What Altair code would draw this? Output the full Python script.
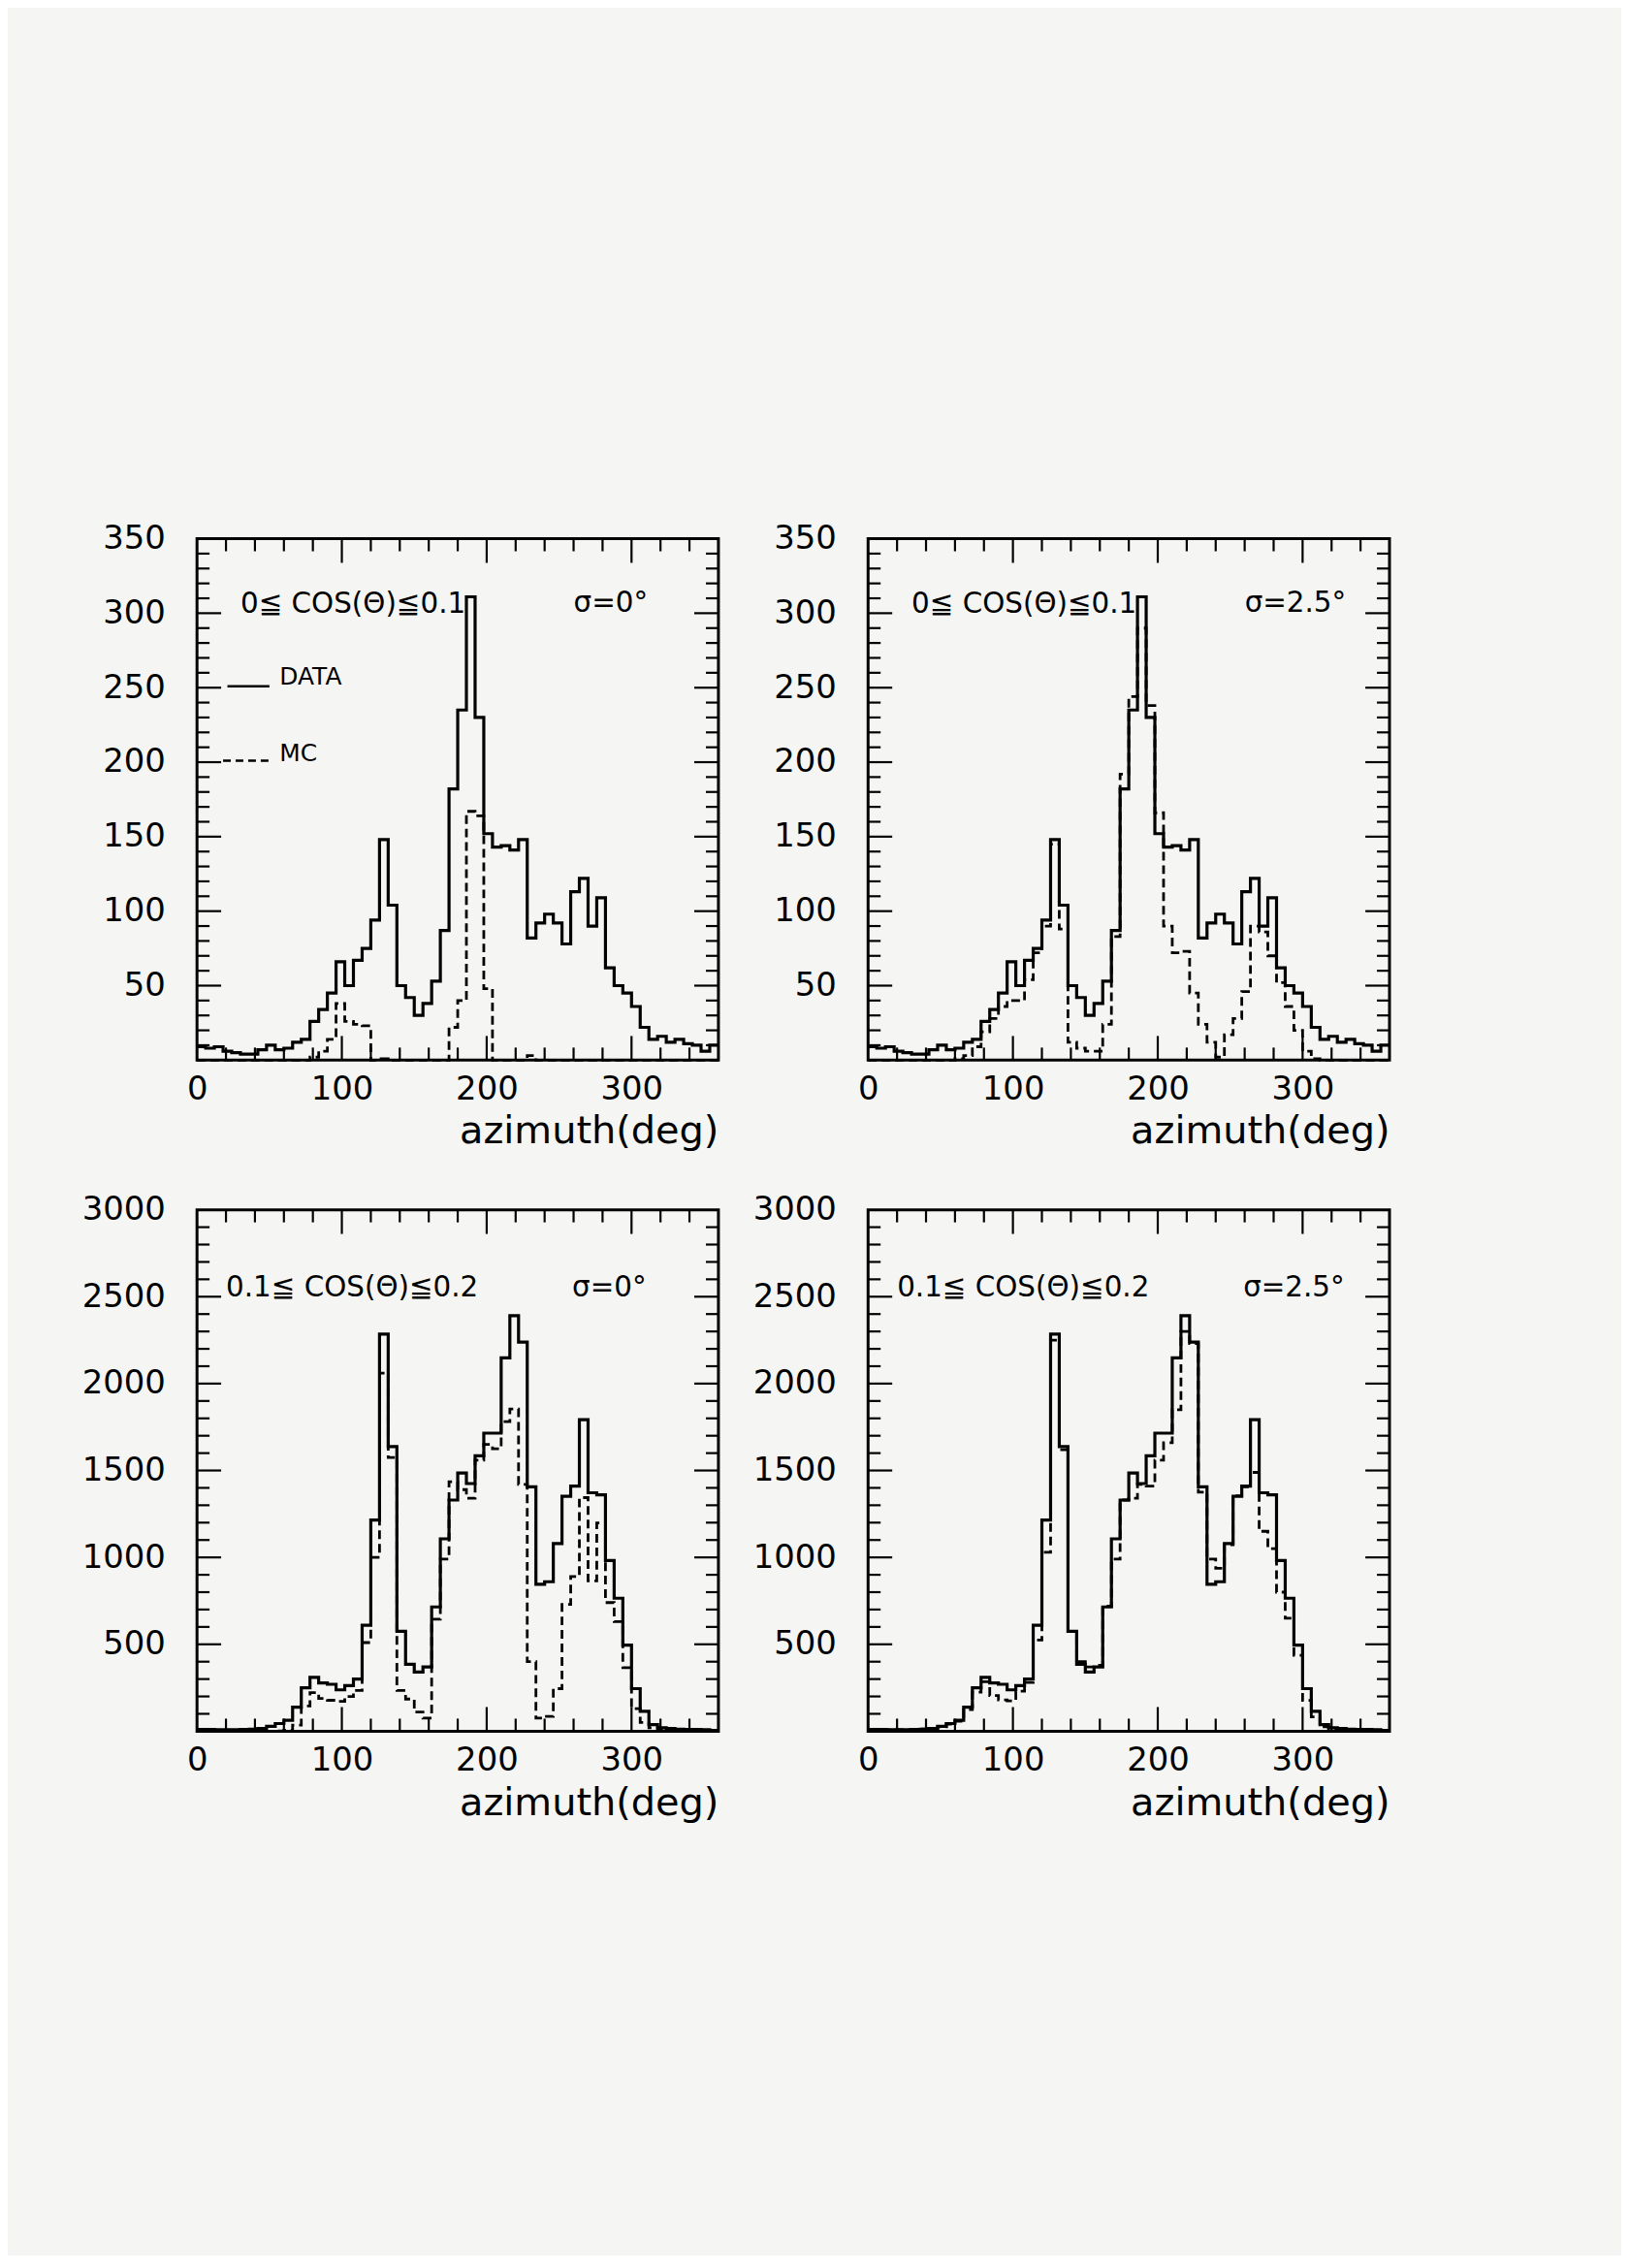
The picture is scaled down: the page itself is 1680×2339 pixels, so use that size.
import altair as alt
import pandas as pd

# ---------------- data (6-degree bins, 0..360) ----------------
EDGES = list(range(0, 361, 6))

data_cos01 = [9, 8, 9, 6, 5, 4, 4, 7, 10, 7,
              8, 12, 14, 26, 34, 45, 66, 50, 67, 75,
              94, 148, 104, 50, 42, 30, 38, 53, 87, 182,
              235, 311, 230, 152, 143, 144, 141, 148, 82, 92,
              98, 92, 78, 113, 122, 90, 109, 62, 50, 45,
              36, 22, 14, 16, 12, 14, 11, 10, 6, 10]

mc_cos01_s0 = [0, 0, 0, 0, 0, 0, 0, 0, 0, 0,
               0, 0, 0, 2, 6, 14, 38, 26, 24, 23,
               0, 1, 0, 0, 0, 0, 0, 0, 0, 22,
               40, 167, 164, 48, 0, 0, 0, 0, 3, 0,
               0, 0, 0, 0, 0, 0, 0, 0, 0, 0,
               0, 0, 0, 0, 0, 0, 0, 0, 0, 0]

mc_cos01_s25 = [0, 0, 0, 0, 0, 0, 0, 0, 0, 0,
                1, 3, 9, 19, 28, 36, 40, 40, 54, 72,
                90, 145, 88, 12, 8, 6, 6, 24, 83, 192,
                244, 290, 238, 166, 90, 72, 73, 45, 24, 12,
                2, 17, 28, 46, 90, 86, 70, 52, 36, 20,
                6, 1, 0, 0, 0, 0, 0, 0, 0, 0]

data_cos12 = [10, 10, 8, 8, 8, 10, 12, 16, 28, 44,
              63, 138, 250, 310, 278, 270, 238, 262, 300, 610,
              1215, 2285, 1638, 575, 385, 340, 370, 715, 1107, 1330,
              1486, 1425, 1585, 1715, 1715, 2148, 2391, 2239, 1406, 845,
              860, 1080, 1352, 1410, 1792, 1372, 1360, 982, 765, 495,
              245, 115, 38, 20, 15, 12, 10, 10, 8, 5]

mc_cos12_s0 = [0, 0, 0, 0, 0, 0, 0, 0, 0, 2,
               5, 35, 145, 222, 188, 178, 172, 200, 235, 510,
               1000, 2060, 1575, 235, 185, 110, 75, 645, 990, 1435,
               1390, 1340, 1560, 1650, 1625, 1781, 1854, 1420, 400, 75,
               85, 245, 730, 890, 1344, 865, 1198, 740, 630, 365,
               130, 50, 20, 8, 4, 2, 1, 0, 0, 0]

mc_cos12_s25 = [10, 10, 8, 8, 8, 10, 12, 16, 26, 40,
                58, 125, 225, 285, 205, 180, 175, 230, 280, 525,
                1030, 2250, 1620, 575, 400, 370, 380, 720, 990, 1330,
                1340, 1420, 1410, 1560, 1660, 1850, 2300, 2230, 1375, 990,
                937, 1073, 1354, 1406, 1489, 1150, 1050, 800, 650, 437,
                177, 83, 25, 15, 12, 10, 8, 8, 6, 5]

# axis labels / ticks
x_labels = [0, 100, 200, 300]
x_major = [100, 200, 300]
x_minor = [v for v in range(20, 360, 20) if v % 100 != 0]

y1_labels = [50, 100, 150, 200, 250, 300, 350]
y1_major = [50, 100, 150, 200, 250, 300]
y1_minor = [v for v in range(10, 350, 10) if v % 50 != 0]

y2_labels = [500, 1000, 1500, 2000, 2500, 3000]
y2_major = [500, 1000, 1500, 2000, 2500]
y2_minor = [v for v in range(100, 3000, 100) if v % 500 != 0]

W = 540
H = 540
FONT = "DejaVu Sans"
MAJ = 25
MIN = 13


def panel(dvals, mvals, ymax, ylabels, ymajor, yminor, cos_txt, sig_txt,
          cos_pos, sig_pos, legend=None):
    xs = alt.Scale(domain=[0, 360], nice=False, zero=False)
    ys = alt.Scale(domain=[0, ymax], nice=False)
    xaxis = alt.Axis(values=x_labels, title="azimuth(deg)", format="d",
                     labelPadding=13, labelFontSize=34, labelBaseline="top",
                     titleX=W, titleY=86, titleAlign="right",
                     titleBaseline="alphabetic", titleFontSize=40,
                     labelOverlap=False, labelFlush=False,
                     domain=False, ticks=False, grid=False)
    yaxis = alt.Axis(values=ylabels, title=None, format="d", labelPadding=33,
                     labelFontSize=34, labelOverlap=False, labelFlush=False,
                     domain=False, ticks=False, grid=False)

    def X(f):
        return alt.X(f, scale=xs, axis=xaxis)

    def Y(f):
        return alt.Y(f, scale=ys, axis=yaxis)

    df = pd.DataFrame({"az": EDGES,
                       "data": dvals + [dvals[-1]],
                       "mc": mvals + [mvals[-1]]})
    base = alt.Chart(df)
    data_line = base.mark_line(interpolate="step-after", color="black",
                               strokeWidth=3.2).encode(x=X("az:Q"), y=Y("data:Q"))
    mc_line = base.mark_line(interpolate="step-after", color="black",
                             strokeWidth=2.8, strokeDash=[9, 5]).encode(
        x=X("az:Q"), y=Y("mc:Q"))

    layers = [data_line, mc_line]

    # inward ticks on all four sides
    for vals, L in ((x_minor, MIN), (x_major, MAJ)):
        tdf = pd.DataFrame({"t": vals})
        layers.append(alt.Chart(tdf).mark_rule(color="black", strokeWidth=2.2)
                      .encode(x=X("t:Q"), y=alt.value(0), y2=alt.value(L)))
        layers.append(alt.Chart(tdf).mark_rule(color="black", strokeWidth=2.2)
                      .encode(x=X("t:Q"), y=alt.value(H), y2=alt.value(H - L)))
    for vals, L in ((yminor, MIN), (ymajor, MAJ)):
        tdf = pd.DataFrame({"t": vals})
        layers.append(alt.Chart(tdf).mark_rule(color="black", strokeWidth=2.2)
                      .encode(y=Y("t:Q"), x=alt.value(0), x2=alt.value(L)))
        layers.append(alt.Chart(tdf).mark_rule(color="black", strokeWidth=2.2)
                      .encode(y=Y("t:Q"), x=alt.value(W), x2=alt.value(W - L)))

    ann = pd.DataFrame({"x": [cos_pos[0], sig_pos[0]],
                        "y": [cos_pos[1], sig_pos[1]],
                        "txt": [cos_txt, sig_txt]})
    layers.append(alt.Chart(ann).mark_text(align="left", baseline="middle",
                                           font=FONT, fontSize=29.5, color="black").encode(
        x=X("x:Q"), y=Y("y:Q"), text="txt:N"))

    if legend is not None:
        ldf = pd.DataFrame(legend)
        layers.append(alt.Chart(ldf[ldf.kind == "DATA"]).mark_rule(
            color="black", strokeWidth=2.6).encode(
            x=X("x0:Q"), x2="x1:Q", y=Y("y:Q")))
        layers.append(alt.Chart(ldf[ldf.kind == "MC"]).mark_rule(
            color="black", strokeWidth=2.6, strokeDash=[8, 5]).encode(
            x=X("x0:Q"), x2="x1:Q", y=Y("y:Q")))
        layers.append(alt.Chart(ldf).mark_text(align="left", baseline="middle",
                                               font=FONT, fontSize=25, color="black").encode(
            x=X("tx:Q"), y=Y("ty:Q"), text="kind:N"))

    return alt.layer(*layers).properties(width=W, height=H)


legend_info = {"kind": ["DATA", "MC"], "x0": [21, 18], "x1": [50, 50],
               "y": [251, 201], "tx": [57, 57], "ty": [257, 206]}

p1 = panel(data_cos01, mc_cos01_s0, 350, y1_labels, y1_major, y1_minor,
           "0≦ COS(Θ)≦0.1", "σ=0°", (30, 306), (260, 307), legend_info)
p2 = panel(data_cos01, mc_cos01_s25, 350, y1_labels, y1_major, y1_minor,
           "0≦ COS(Θ)≦0.1", "σ=2.5°", (30, 306), (260, 307))
p3 = panel(data_cos12, mc_cos12_s0, 3000, y2_labels, y2_major, y2_minor,
           "0.1≦ COS(Θ)≦0.2", "σ=0°", (20, 2552), (259, 2550))
p4 = panel(data_cos12, mc_cos12_s25, 3000, y2_labels, y2_major, y2_minor,
           "0.1≦ COS(Θ)≦0.2", "σ=2.5°", (20, 2552), (259, 2550))

chart = alt.concat(p1, p2, p3, p4, columns=2,
                   spacing=alt.RowColnumber(row=155, column=155),
                   bounds="flush").properties(
    padding={"left": 74, "top": 526, "right": 232, "bottom": 442},
    background="#f5f5f3",
).configure_view(stroke="black", strokeWidth=3, fill="#f5f5f3").configure_axis(
    labelFont=FONT, titleFont=FONT, labelColor="black", titleColor="black",
    titleFontWeight="normal", grid=False
)

chart.save("out.html", embed_options={"renderer": "svg", "actions": False})
